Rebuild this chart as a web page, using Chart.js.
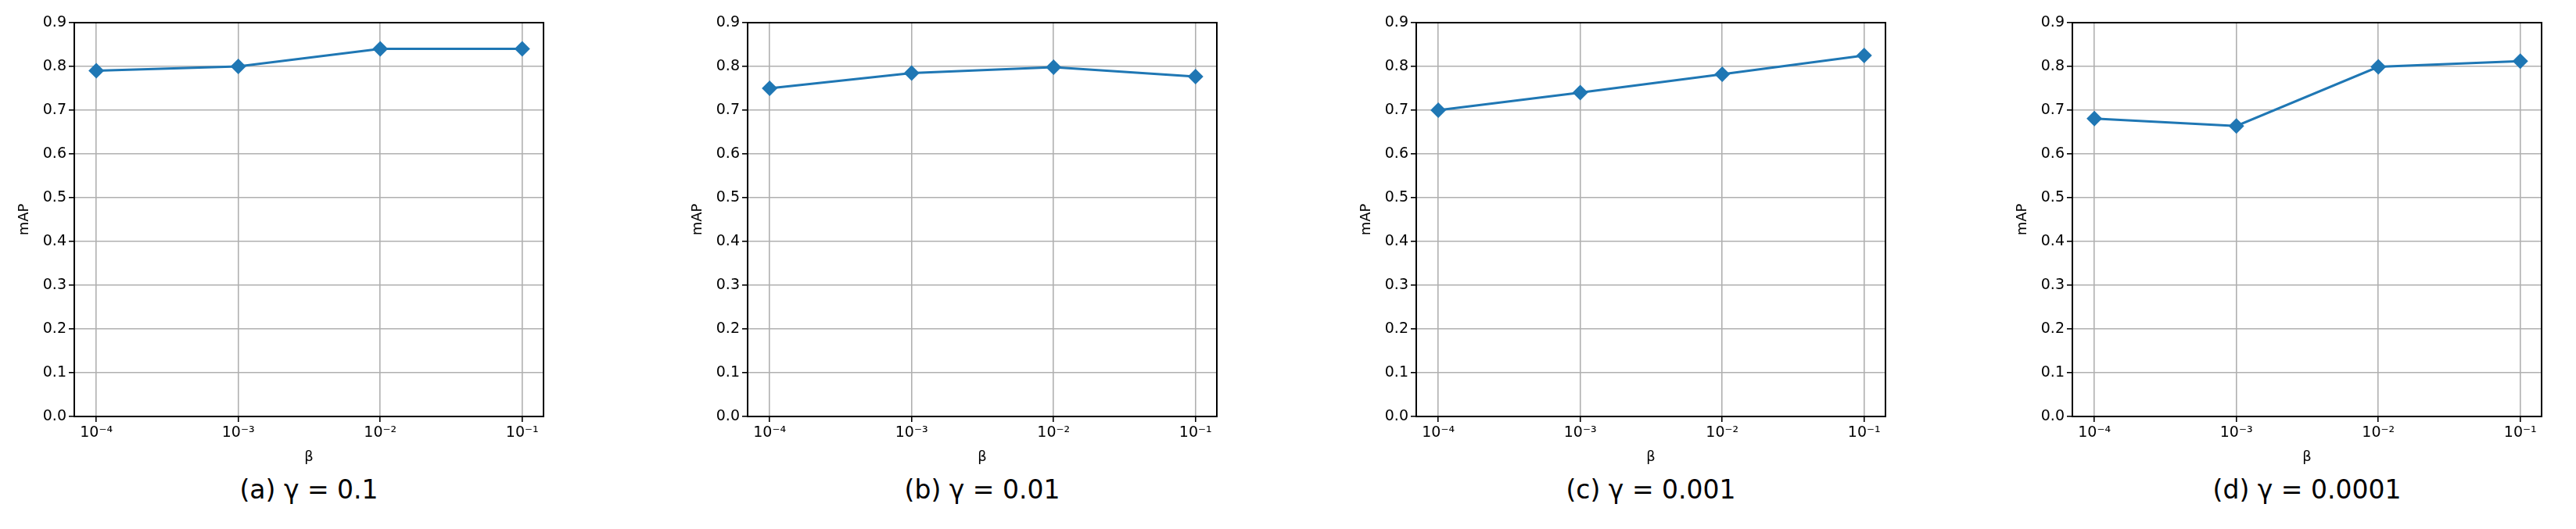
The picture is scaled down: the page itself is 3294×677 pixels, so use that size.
<!DOCTYPE html>
<html><head><meta charset="utf-8">
<script src="https://cdn.jsdelivr.net/npm/chart.js@4/dist/chart.umd.min.js"></script>
<style>
body{margin:0;background:#fff;width:3294px;height:677px;position:relative;overflow:hidden;font-family:"DejaVu Sans",sans-serif}
.p{position:absolute;top:0;width:705px;height:600px}
.cap{position:absolute;top:607px;font-size:33px;color:#000;text-align:center;width:600px}
</style></head><body>
<script>
const betas=[1e-4,1e-3,1e-2,1e-1];
const tickLabels={"-4":"10⁻⁴","-3":"10⁻³","-2":"10⁻²","-1":"10⁻¹"};
const mapA=[0.79,0.80,0.84,0.84];
const mapB=[0.75,0.785,0.798,0.777];
const mapC=[0.70,0.74,0.782,0.825];
const mapD=[0.681,0.664,0.799,0.812];
const captions=["(a) γ = 0.1","(b) γ = 0.01","(c) γ = 0.001","(d) γ = 0.0001"];
const series=[mapA,mapB,mapC,mapD];
const plotLefts=[95,956,1811,2650];
const YW=78;
series.forEach((vals,i)=>{
  const div=document.createElement('div');div.className='p';
  div.style.left=(plotLefts[i]-YW)+'px';
  const cv=document.createElement('canvas');div.appendChild(cv);document.body.appendChild(div);
  const cap=document.createElement('div');cap.className='cap';cap.textContent=captions[i];
  cap.style.left=plotLefts[i]+'px';document.body.appendChild(cap);
  new Chart(cv,{type:'line',
    data:{datasets:[{data:betas.map((b,k)=>({x:b,y:vals[k]})),borderColor:'#1f77b4',backgroundColor:'#1f77b4',
      borderWidth:3,pointStyle:'rectRot',pointRadius:10,pointBorderWidth:0}]},
    options:{responsive:true,maintainAspectRatio:false,animation:false,
      layout:{padding:{top:29,right:27,left:0,bottom:0}},
      plugins:{legend:{display:false},tooltip:{enabled:false}},
      scales:{
        x:{type:'logarithmic',min:Math.pow(10,-4.15),max:Math.pow(10,-0.85),
          afterBuildTicks:ax=>{ax.ticks=betas.map(v=>({value:v}));},
          afterFit:ax=>{ax.height=67;},
          ticks:{color:'#000',font:{size:19,family:'DejaVu Sans'},padding:3,maxRotation:0,
            callback:v=>tickLabels[String(Math.round(Math.log10(v)))]},
          grid:{color:'#b0b0b0',lineWidth:1.6,tickColor:'#000',tickLength:7},
          border:{color:'#000',width:2},
          title:{display:true,text:'β',color:'#000',font:{size:18,family:'DejaVu Sans'},padding:{top:0}}},
        y:{min:0,max:0.9,afterFit:ax=>{ax.width=YW;},
          ticks:{stepSize:0.1,color:'#000',font:{size:19,family:'DejaVu Sans'},callback:v=>v.toFixed(1)},
          grid:{color:'#b0b0b0',lineWidth:1.6,tickColor:'#000',tickLength:7},
          border:{color:'#000',width:2},
          title:{display:true,text:'mAP',color:'#000',font:{size:18,family:'DejaVu Sans'},padding:{bottom:0}}}
      }},
    plugins:[{id:'frame',afterDraw(c){const a=c.chartArea,x=c.ctx;x.save();x.strokeStyle='#000';x.lineWidth=2;
      x.strokeRect(a.left,a.top,a.right-a.left,a.bottom-a.top);x.restore();}}]
  });
});
</script></body></html>
